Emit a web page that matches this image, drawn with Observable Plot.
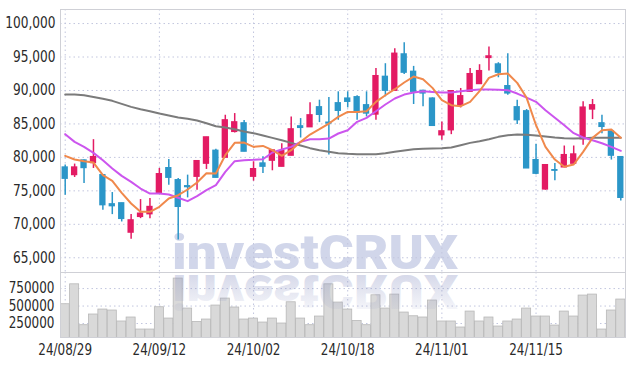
<!DOCTYPE html>
<html><head><meta charset="utf-8">
<script src="https://cdn.jsdelivr.net/npm/d3@7"></script>
<script src="https://cdn.jsdelivr.net/npm/@observablehq/plot@0.6"></script>
<style>
body{margin:0;background:#fff;}
#chart{position:relative;width:634px;height:366px;overflow:hidden;}
#chart svg{display:block;}
</style></head><body><div id="chart"></div>
<script>
const dates = ["2024-08-29","2024-08-30","2024-09-02","2024-09-03","2024-09-04","2024-09-05","2024-09-06","2024-09-09","2024-09-10","2024-09-11",
"2024-09-12","2024-09-13","2024-09-19","2024-09-20","2024-09-23","2024-09-24","2024-09-25","2024-09-26","2024-09-27","2024-09-30",
"2024-10-02","2024-10-04","2024-10-07","2024-10-08","2024-10-10","2024-10-11","2024-10-14","2024-10-15","2024-10-16","2024-10-17",
"2024-10-18","2024-10-21","2024-10-22","2024-10-23","2024-10-24","2024-10-25","2024-10-28","2024-10-29","2024-10-30","2024-10-31",
"2024-11-01","2024-11-04","2024-11-05","2024-11-06","2024-11-07","2024-11-08","2024-11-11","2024-11-12","2024-11-13","2024-11-14",
"2024-11-15","2024-11-18","2024-11-19","2024-11-20","2024-11-21","2024-11-22","2024-11-25","2024-11-26","2024-11-27","2024-11-28"];
const open = [78500,77350,79550,79150,77350,73000,73150,68750,71100,71500,
74600,78400,76600,75700,77100,79050,81000,79950,83800,85100,
77100,79100,79500,78600,80250,84650,84500,87500,85200,88100,
88800,89000,87800,86400,92050,89950,95400,92800,89950,88800,
83300,84050,87700,89800,90950,94850,93900,90650,87500,86900,
79600,75200,78100,78500,79050,82700,87150,85100,83900,80050];
const high = [78850,79000,79600,82650,77350,74750,73150,71450,73700,73850,
78350,79700,76850,77350,79450,83000,81200,86300,86550,85500,
79350,80100,81050,82050,86050,85800,88150,88550,88950,89800,
89800,89200,89800,93300,94000,96250,97150,93600,90050,88900,
85300,89900,90300,93300,93850,96500,94150,95500,88550,87150,
81950,78850,79100,81700,81700,88300,88650,86300,83900,80050];
const low = [74350,77000,76100,78350,72100,71450,70350,67750,70850,70850,
74450,75850,67650,73950,75100,78200,76950,79950,83650,80850,
76450,77600,78000,78600,80250,82900,84500,85200,80350,85550,
87400,85550,86050,85550,89050,89950,92400,87900,87550,84700,
82550,83400,87400,89800,90950,92900,91900,89300,84900,78350,
77400,75100,76500,78500,79050,81800,85650,83550,79600,73500];
const close = [76800,78500,78400,80050,72850,72700,70800,70600,71600,72600,
77500,76950,72600,75550,79450,83000,76950,85550,85250,80850,
78250,78600,81050,80950,84200,84400,86300,86350,85050,86950,
88300,86650,86550,92150,89950,95500,92650,89800,89550,84700,
83900,89900,89150,92450,92900,95100,92650,89550,85550,78350,
77550,78850,78000,80350,80450,87450,87800,84550,80250,73950];
const volume = [526000,811000,226000,379000,450000,436000,279000,336000,164000,164000,
483000,321000,893000,464000,273000,307000,507000,607000,479000,307000,
321000,264000,321000,250000,554000,321000,226000,350000,811000,550000,
450000,287000,226000,654000,464000,664000,407000,354000,336000,579000,
279000,279000,193000,421000,279000,336000,207000,279000,307000,464000,
350000,350000,221000,421000,350000,650000,664000,164000,436000,593000];
const ma5 = [80230,79680,79430,79230,77340,76490,74700,73110,71860,71860,
72610,73860,74350,75200,76250,77640,77590,80330,82170,82220,
81570,81720,81080,80230,81080,82320,83420,84210,85060,86060,
86800,86800,86900,88300,89290,90190,91190,92080,91680,90390,
88550,87800,87650,88300,89890,91880,92430,92530,91140,88900,
84810,81570,79680,78590,78940,80830,82920,84060,84160,82920];
const ma20 = [83470,82320,81570,80680,79580,78340,77240,76350,75350,74600,
74600,74450,73960,73460,74200,75100,75850,77840,79430,79580,
79630,79730,80730,81180,81570,82320,82720,82720,82820,83570,
84060,85310,85910,86900,87900,88800,89390,89690,89890,89790,
89690,89690,89890,90040,90140,90140,90090,90040,89540,88940,
88300,87050,85910,84810,83620,82970,82570,82120,81570,80980];
const ma60 = [89390,89390,89290,89040,88750,88450,88000,87550,87200,86900,
86550,86260,85960,85760,85510,85110,84660,84460,84210,83870,
83620,83270,82920,82570,82170,81770,81380,81080,80830,80630,
80530,80480,80480,80480,80630,80830,81030,81230,81280,81330,
81380,81470,81820,82170,82420,82720,83070,83320,83420,83370,
83270,83120,82970,82870,82820,82870,82920,82920,82920,82920];
const priceTicks = [65000,70000,75000,80000,85000,90000,95000,100000];
const volumeTicks = [250000,500000,750000];
const dateTicks = ["2024-08-29","2024-09-12","2024-10-02","2024-10-18","2024-11-01","2024-11-15"];

const rows = dates.map((date, i) => ({date, open: open[i], high: high[i], low: low[i], close: close[i],
  volume: volume[i], ma5: ma5[i], ma20: ma20[i], ma60: ma60[i]}));
const RED = "#e31b63", BLUE = "#2b96c8";
const col = d => d.close >= d.open ? RED : BLUE;
const font = '"Liberation Sans Narrow","DejaVu Sans Condensed","Roboto Condensed",sans-serif';
const grid = {stroke: "#c2c6de", strokeDasharray: "1.5,3", strokeWidth: 1};

const price = Plot.plot({
  width: 634, height: 272, marginLeft: 60, marginRight: 9, marginTop: 9, marginBottom: 0,
  style: {fontFamily: font, fontSize: "15px", color: "#2a2a2a", background: "transparent", overflow: "visible"},
  x: {type: "band", domain: dates, paddingInner: 0.33, paddingOuter: 0.165, round: false, axis: null},
  y: {domain: [62800, 102100], axis: null},
  marks: [
    Plot.ruleY(priceTicks, grid),
    Plot.ruleX(dateTicks, grid),
    Plot.frame({stroke: "#cfd0d6"}),
    Plot.ruleX(rows, {x: "date", y1: "low", y2: "high", stroke: col, strokeWidth: 1.5}),
    Plot.barY(rows, {x: "date", y1: "open", y2: "close", fill: col, insetTop: -0.6, insetBottom: -0.6}),
    Plot.lineY(rows, {x: "date", y: "ma60", stroke: "#7b7b7b", strokeWidth: 2}),
    Plot.lineY(rows, {x: "date", y: "ma20", stroke: "#cc55ee", strokeWidth: 2}),
    Plot.lineY(rows, {x: "date", y: "ma5", stroke: "#f0894c", strokeWidth: 2}),
    Plot.axisY(priceTicks, {tickSize: 0, tickPadding: 5, tickFormat: d3.format(","), label: null})
  ]
});

const vol = Plot.plot({
  width: 634, height: 94, marginLeft: 60, marginRight: 9, marginTop: 0, marginBottom: 29,
  style: {fontFamily: font, fontSize: "15px", color: "#2a2a2a", background: "transparent", overflow: "visible"},
  x: {type: "band", domain: dates, paddingInner: 0.04, paddingOuter: 0.02, round: false, axis: null},
  y: {domain: [50000, 980000], axis: null},
  marks: [
    Plot.ruleY(volumeTicks, grid),
    Plot.ruleX(dateTicks, grid),
    Plot.barY(rows, {x: "date", y: "volume", fill: "#d9d9d9", stroke: "#b8b8b8", strokeWidth: 0.8, clip: true}),
    Plot.frame({stroke: "#cfd0d6"}),
    Plot.axisY(volumeTicks, {tickSize: 0, tickPadding: 6, label: null, tickFormat: d => String(d)}),
    Plot.axisX(dateTicks, {tickSize: 0, tickPadding: 6, label: null, fontSize: 16,
      tickFormat: d => d.slice(2).replace(/-/g, "/")})
  ]
});

// watermark behind the price marks
d3.select(price).insert("text", ":first-child")
  .attr("x", 172).attr("y", 269).attr("text-anchor", "start")
  .attr("font-family", "Roboto, 'DejaVu Sans', sans-serif").attr("font-weight", 900).attr("font-size", 49)
  .attr("textLength", 286).attr("lengthAdjust", "spacingAndGlyphs")
  .attr("fill", "#d1d6ea")
  .text("investCRUX");

// mirrored reflection over the volume panel
const vs = d3.select(vol);
const grad = vs.append("defs").append("linearGradient").attr("id", "wmrefl")
  .attr("gradientUnits", "userSpaceOnUse").attr("x1", 0).attr("y1", 0).attr("x2", 0).attr("y2", -38);
grad.append("stop").attr("offset", 0).attr("stop-color", "#8890c0").attr("stop-opacity", 0.34);
grad.append("stop").attr("offset", 1).attr("stop-color", "#8890c0").attr("stop-opacity", 0.06);
vs.append("text")
  .attr("transform", "translate(172,3) scale(1,-1)").attr("text-anchor", "start")
  .attr("font-family", "Roboto, 'DejaVu Sans', sans-serif").attr("font-weight", 900).attr("font-size", 49)
  .attr("textLength", 286).attr("lengthAdjust", "spacingAndGlyphs")
  .attr("fill", "url(#wmrefl)")
  .text("investCRUX");

const root = document.getElementById("chart");
root.appendChild(price);
root.appendChild(vol);

// condense the axis labels to the narrow face of the reference
function condense(svg, selector, factor) {
  d3.select(svg).selectAll(selector).each(function() {
    const L = this.getComputedTextLength();
    if (L > 0) {
      this.setAttribute("textLength", (L * factor).toFixed(1));
      this.setAttribute("lengthAdjust", "spacingAndGlyphs");
    }
  });
}
condense(price, '[aria-label="y-axis tick label"] text', 0.9);
condense(vol, '[aria-label="y-axis tick label"] text', 0.89);
condense(vol, '[aria-label="x-axis tick label"] text', 0.83);
</script></body></html>
